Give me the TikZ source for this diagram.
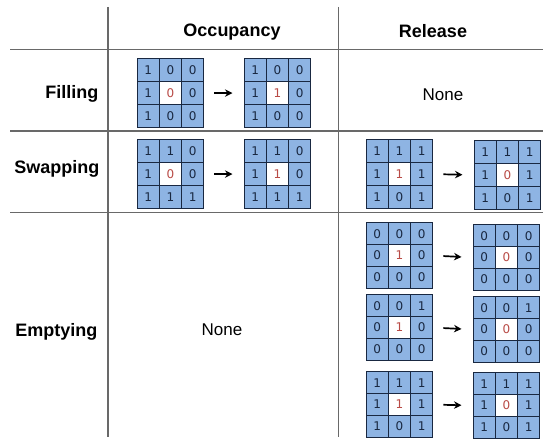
\documentclass[tikz,border=0pt]{standalone}
\usepackage{fontspec}
\usepackage{tikz}
\usetikzlibrary{arrows.meta}
\newfontfamily\headfont{Liberation Sans}
\newfontfamily\digitfont{DejaVu Sans}
\definecolor{cellblue}{RGB}{142,180,227}
\definecolor{cellline}{RGB}{25,40,65}
\definecolor{centrered}{RGB}{185,75,70}
\definecolor{rulegray}{RGB}{105,105,105}

% 3x3 neighbourhood: name, left, top, nine values
\newcommand{\cellgrid}[4]{%
  \foreach \v [count=\i from 0] in {#4} {
    \pgfmathtruncatemacro\row{div(\i,3)}
    \pgfmathtruncatemacro\col{mod(\i,3)}
    \ifnum\i=4
      \node[cell, fill=white, text=centrered] (#1-\row\col) at ({#2+\cellw*(\col+0.5)},{#3+\cellh*(\row+0.5)}) {\v};
    \else
      \node[cell] (#1-\row\col) at ({#2+\cellw*(\col+0.5)},{#3+\cellh*(\row+0.5)}) {\v};
    \fi
  }
}
\def\cellw{22.3}
\def\cellh{22.7}

\begin{document}
\begin{tikzpicture}[
  x=1pt, y=-1pt,
  cell/.style={draw=cellline, line width=1pt, fill=cellblue, text=cellline, minimum width=\cellw pt, minimum height=\cellh pt, inner sep=0pt, font=\digitfont\fontsize{12}{14}\selectfont},
  rule/.style={draw=rulegray, line width=1.2pt},
  head/.style={font=\headfont\bfseries\fontsize{18}{20}\selectfont, anchor=base},
  rowhead/.style={font=\headfont\bfseries\fontsize{18}{20}\selectfont, anchor=base east},
  none/.style={font=\headfont\fontsize{17}{19}\selectfont, anchor=base},
  arrow/.style={-{Stealth[length=7.5pt, width=7.5pt]}, line width=1.7pt, shorten <=10pt, shorten >=11pt}
]
\useasboundingbox (0,0) rectangle (550,443);

% table rules
\draw[rule] (10,49.5) -- (543,49.5);
\draw[rule] (10,131) -- (543,131);
\draw[rule] (10,212.5) -- (543,212.5);
\draw[rule] (108,7) -- (108,437);
\draw[rule] (338.5,7) -- (338.5,437);

\node[head] (occ) at (232,37) {Occupancy};
\node[head] (rel) at (433,38) {Release};

\node[rowhead] (fill) at (102,99) {Filling};
\node[rowhead] (swap) at (103,174) {Swapping};
\node[rowhead] (empty) at (101,337) {Emptying};

\node[none] (none1) at (443,101) {None};
\node[none] (none2) at (222,336) {None};

% filling
\cellgrid{fo1}{137}{59}{1,0,0,1,0,0,1,0,0}
\cellgrid{fo2}{244}{59}{1,0,0,1,1,0,1,0,0}
\draw[arrow] (fo1-12.east) -- (fo2-10.west);

% swapping
\cellgrid{so1}{137}{140}{1,1,0,1,0,0,1,1,1}
\cellgrid{so2}{244}{140}{1,1,0,1,1,0,1,1,1}
\draw[arrow] (so1-12.east) -- (so2-10.west);
\cellgrid{sr1}{366}{140}{1,1,1,1,1,1,1,0,1}
\cellgrid{sr2}{474}{141}{1,1,1,1,0,1,1,0,1}
\draw[arrow] (sr1-12.east) -- (sr2-10.west);

% emptying
\def\cellh{21.7}
\cellgrid{ea1}{366}{223}{0,0,0,0,1,0,0,0,0}
\cellgrid{ea2}{473}{225}{0,0,0,0,0,0,0,0,0}
\draw[arrow] (ea1-12.east) -- (ea2-10.west);
\cellgrid{eb1}{366}{295}{0,0,1,0,1,0,0,0,0}
\cellgrid{eb2}{473}{297}{0,0,1,0,0,0,0,0,0}
\draw[arrow] (eb1-12.east) -- (eb2-10.west);
\cellgrid{ec1}{366}{372}{1,1,1,1,1,1,1,0,1}
\cellgrid{ec2}{473}{373}{1,1,1,1,0,1,1,0,1}
\draw[arrow] (ec1-12.east) -- (ec2-10.west);

\end{tikzpicture}
\end{document}
